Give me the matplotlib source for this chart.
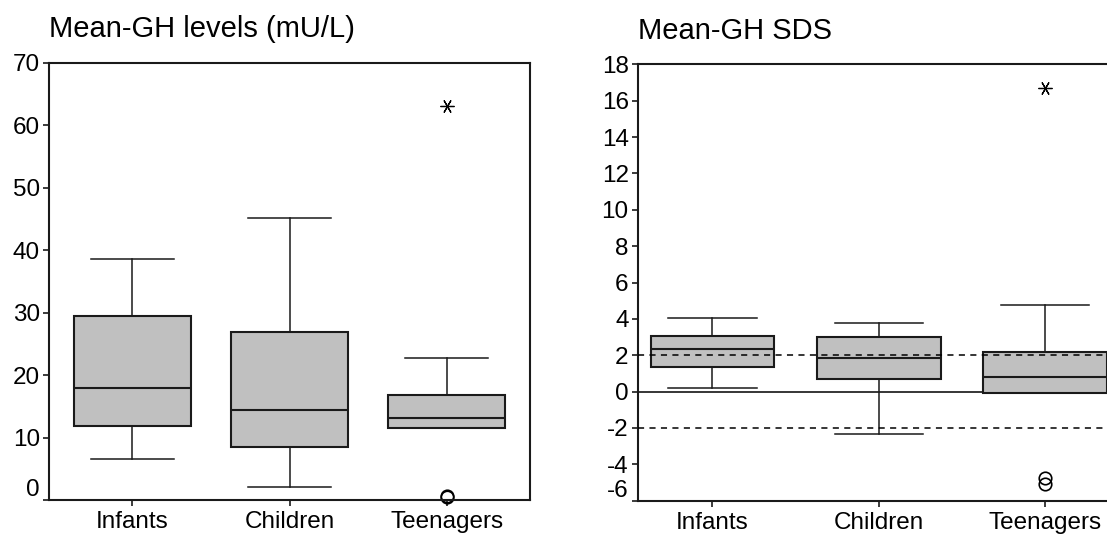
import matplotlib
matplotlib.use('Agg')
import matplotlib.pyplot as plt
from matplotlib.transforms import ScaledTranslation

plt.rcParams['font.family'] = ['Liberation Sans', 'DejaVu Sans']

categories = ['Infants', 'Children', 'Teenagers']

# Left panel: Mean-GH levels (mU/L)
gh_whislo = [6.6, 2.1, 11.6]
gh_q1 = [11.8, 8.5, 11.6]
gh_med = [18.0, 14.4, 13.2]
gh_q3 = [29.5, 26.9, 16.8]
gh_whishi = [38.5, 45.1, 22.7]
gh_outliers = [[], [], [0.5, 0.7]]
gh_extremes = [[], [], [63.0]]
gh_ticks = [0, 10, 20, 30, 40, 50, 60, 70]

# Right panel: Mean-GH SDS
sds_whislo = [0.22, -2.35, -0.08]
sds_q1 = [1.37, 0.69, -0.08]
sds_med = [2.34, 1.87, 0.80]
sds_q3 = [3.04, 2.98, 2.18]
sds_whishi = [4.04, 3.79, 4.76]
sds_outliers = [[], [], [-4.75, -5.1]]
sds_extremes = [[], [], [16.7]]
sds_ticks = [-6, -4, -2, 0, 2, 4, 6, 8, 10, 12, 14, 16, 18]
sds_ref_dashed = [-2, 2]
sds_ref_solid = [0]

EDGE = '#1a1a1a'
FILL = '#c0c0c0'

fig = plt.figure(figsize=(11.07, 5.34), dpi=100)
ax1 = fig.add_axes([49 / 1107, 34 / 534, 481 / 1107, 437.3 / 534])
ax2 = fig.add_axes([637.7 / 1107, 33.3 / 534, 481.9 / 1107, 436.4 / 534])


def make_stats(lo, q1, med, q3, hi, fl):
    return [dict(whislo=lo[i], q1=q1[i], med=med[i], q3=q3[i], whishi=hi[i], fliers=fl[i])
            for i in range(len(med))]


def draw_panel(ax, stats, extremes, ticks, ylim, xlim, title):
    pos = list(range(1, len(categories) + 1))
    ax.bxp(stats, positions=pos, widths=0.745, capwidths=0.53, patch_artist=True,
           boxprops=dict(facecolor=FILL, edgecolor=EDGE, linewidth=1.5),
           medianprops=dict(color=EDGE, linewidth=1.5),
           whiskerprops=dict(color=EDGE, linewidth=1.1),
           capprops=dict(color=EDGE, linewidth=1.1),
           flierprops=dict(marker='o', markerfacecolor='none', markeredgecolor='black',
                           markersize=9, markeredgewidth=1.2, clip_on=False),
           zorder=2)
    for p, vals in zip(pos, extremes):
        if vals:
            ax.plot([p] * len(vals), vals, linestyle='none', marker=(6, 2, 90),
                    markersize=10, markeredgewidth=0.9, color='black', zorder=4)
    ax.set_xlim(*xlim)
    ax.set_ylim(*ylim)
    ax.set_yticks(ticks)
    ax.set_yticklabels([str(t) for t in ticks])
    ax.set_xticks(pos)
    ax.set_xticklabels(categories)
    ax.tick_params(axis='both', direction='out', length=4, width=1.2, color=EDGE,
                   labelsize=17.5, labelcolor='black')
    ax.tick_params(axis='y', pad=2.5)
    ax.tick_params(axis='x', pad=4)
    for s in ax.spines.values():
        s.set_linewidth(1.5)
        s.set_color(EDGE)
    ax.set_title(title, loc='left', fontsize=21, pad=18.5)
    # lowest tick label raised above the x axis line
    lab = ax.yaxis.get_major_ticks()[0].label1
    lab.set_transform(lab.get_transform() + ScaledTranslation(0, 12 / 100, fig.dpi_scale_trans))


draw_panel(ax1, make_stats(gh_whislo, gh_q1, gh_med, gh_q3, gh_whishi, gh_outliers),
           gh_extremes, gh_ticks, (0, 70), (0.47, 3.53), 'Mean-GH levels (mU/L)')

draw_panel(ax2, make_stats(sds_whislo, sds_q1, sds_med, sds_q3, sds_whishi, sds_outliers),
           sds_extremes, sds_ticks, (-6, 18), (0.55, 3.45), 'Mean-GH SDS')
for y in sds_ref_solid:
    ax2.axhline(y, color='black', linewidth=1.1, zorder=1.5)
for y in sds_ref_dashed:
    ax2.axhline(y, color='black', linewidth=1.1, linestyle=(0, (4, 3.5)), zorder=3)

fig.savefig('out.png', dpi=100)
